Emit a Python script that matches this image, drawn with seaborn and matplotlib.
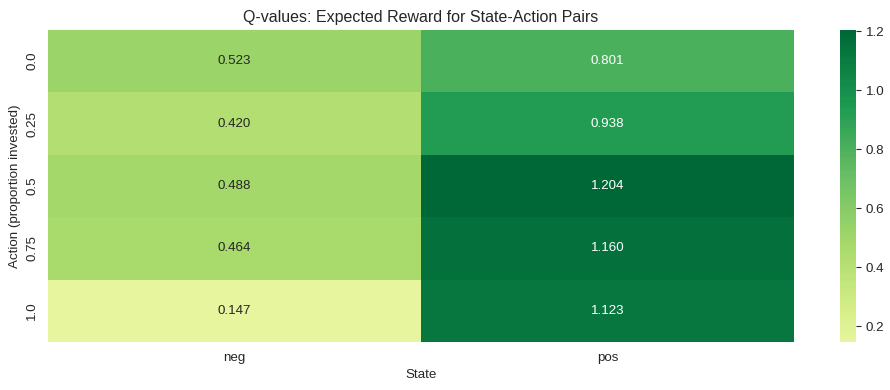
import numpy as np
import pandas as pd
import seaborn as sns
import matplotlib
matplotlib.use("Agg")
import matplotlib.pyplot as plt

states = ["neg", "pos"]
actions = ["0.0", "0.25", "0.5", "0.75", "1.0"]
q_neg = [0.523, 0.420, 0.488, 0.464, 0.147]
q_pos = [0.801, 0.938, 1.204, 1.160, 1.123]

df = pd.DataFrame({"neg": q_neg, "pos": q_pos}, index=actions)

sns.set_style("whitegrid")
plt.rcParams["font.family"] = ["Liberation Sans", "DejaVu Sans"]
plt.rcParams["xtick.labelsize"] = 9.6
plt.rcParams["ytick.labelsize"] = 9.6
plt.rcParams["axes.labelsize"] = 9.6

W, H = 890, 390
fig = plt.figure(figsize=(W / 100, H / 100), dpi=100)
ax = fig.add_axes([48 / W, (H - 342) / H, 746 / W, 312 / H])
cax = fig.add_axes([840 / W, (H - 342) / H, 16 / W, 312 / H])
sns.heatmap(df, annot=True, fmt=".3f", cmap="RdYlGn", center=0, ax=ax, cbar_ax=cax,
            annot_kws={"fontsize": 9.6})
cax.tick_params(labelsize=9.6)
ax.set_title("Q-values: Expected Reward for State-Action Pairs", fontsize=11.5)
ax.set_xlabel("State")
ax.set_ylabel("Action (proportion invested)")
fig.savefig("out.png", dpi=100)
